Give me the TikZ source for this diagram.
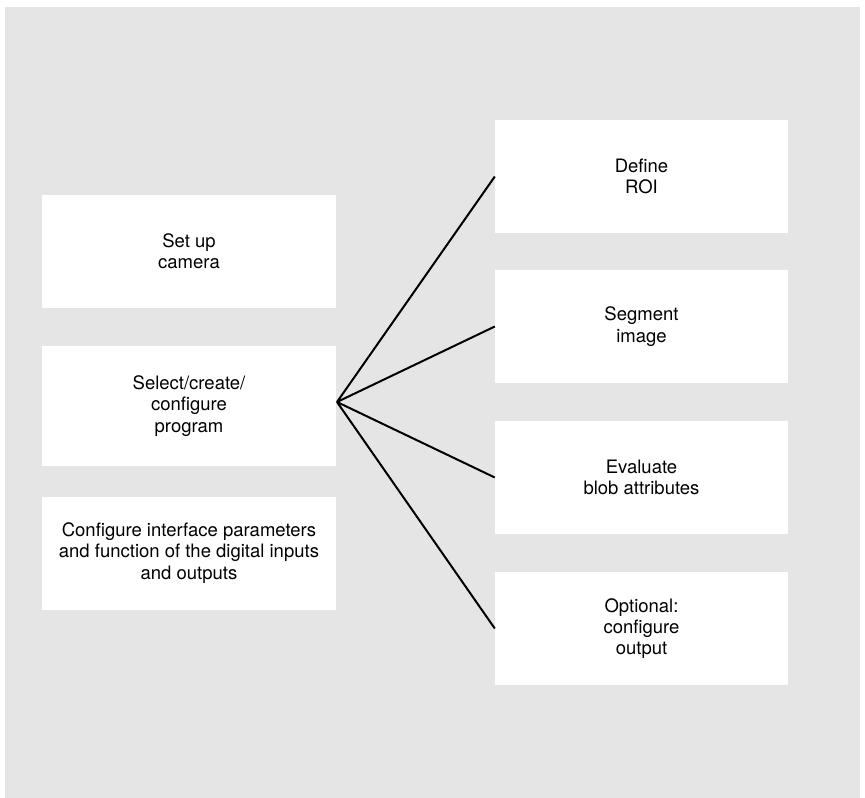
\documentclass[tikz,border=0pt]{standalone}
\usepackage{fontspec}
\setmainfont{TeX Gyre Heros}
\definecolor{bggray}{HTML}{E5E5E5}
\begin{document}
\begin{tikzpicture}[x=1pt,y=-1pt,
  stepbox/.style={fill=white,draw=none,inner sep=0pt,align=center,
    font=\fontsize{18.5}{21.3}\selectfont,minimum width=294pt},
  link/.style={line width=2pt,black}]
\useasboundingbox (0,0) rectangle (865,798);
\fill[bggray] (5,7) rectangle (860,798);
\node[stepbox,minimum height=113pt] (l1) at (189,251) {Set up\\camera};
\node[stepbox,minimum height=120pt] (l2) at (189,406) {Select/create/\\configure\\program};
\node[stepbox,minimum height=113pt] (l3) at (189,553) {Configure interface parameters\\and function of the digital inputs\\and outputs};
\node[stepbox,minimum width=293pt,minimum height=113pt] (r1) at (641.5,176.5) {Define\\ROI};
\node[stepbox,minimum width=293pt,minimum height=113pt] (r2) at (641.5,326.5) {Segment\\image};
\node[stepbox,minimum width=293pt,minimum height=113pt] (r3) at (641.5,477.5) {Evaluate\\blob attributes};
\node[stepbox,minimum width=293pt,minimum height=113pt] (r4) at (641.5,628.5) {Optional:\\configure\\output};
\coordinate (hub) at (337,402);
\foreach \t in {r1,r2,r3,r4}{
  \draw[link] (hub) -- (\t.west);
}
\end{tikzpicture}
\end{document}
